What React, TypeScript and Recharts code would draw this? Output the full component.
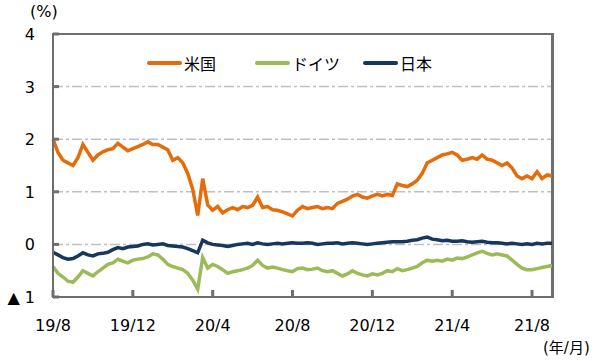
import { LineChart, Line, XAxis, YAxis, CartesianGrid, ReferenceLine } from "recharts";

// month labels on the x axis (one every 4 months, starting 2019/8)
const tickLabels = ["19/8", "19/12", "20/4", "20/8", "20/12", "21/4", "21/8"];
const tickMonths = [0, 4, 8, 12, 16, 20, 24];
const yTicks = [-1, 0, 1, 2, 3, 4];

// 10-year yields, sampled about weekly (4 points per month) from 2019/8
const us = [
  2.0, 1.75, 1.6, 1.55, 1.5, 1.65, 1.9, 1.75, 1.6, 1.7,
  1.76, 1.8, 1.82, 1.92, 1.85, 1.78, 1.82, 1.86, 1.9, 1.95,
  1.9, 1.9, 1.85, 1.8, 1.6, 1.65, 1.55, 1.35, 1.05, 0.55,
  1.25, 0.75, 0.65, 0.72, 0.6, 0.66, 0.7, 0.66, 0.72, 0.7,
  0.74, 0.9, 0.7, 0.72, 0.66, 0.65, 0.62, 0.58, 0.54, 0.65,
  0.72, 0.68, 0.7, 0.72, 0.68, 0.7, 0.68, 0.78, 0.82, 0.86,
  0.92, 0.95, 0.9, 0.88, 0.92, 0.95, 0.92, 0.95, 0.93, 1.15,
  1.12, 1.1, 1.15, 1.22, 1.35, 1.55, 1.6, 1.65, 1.7, 1.72,
  1.75, 1.7, 1.6, 1.62, 1.65, 1.62, 1.7, 1.62, 1.6, 1.55,
  1.5, 1.55, 1.45, 1.3, 1.25, 1.3, 1.25, 1.38, 1.25, 1.32,
  1.3,
];

const de = [
  -0.42, -0.55, -0.62, -0.7, -0.72, -0.62, -0.5, -0.55, -0.6, -0.52,
  -0.45, -0.38, -0.35, -0.28, -0.32, -0.35, -0.3, -0.28, -0.27, -0.24,
  -0.18, -0.2, -0.28, -0.38, -0.42, -0.45, -0.48, -0.55, -0.68, -0.85,
  -0.25, -0.45, -0.38, -0.42, -0.48, -0.55, -0.52, -0.5, -0.48, -0.45,
  -0.4, -0.3, -0.4, -0.45, -0.43, -0.45, -0.48, -0.5, -0.52, -0.46,
  -0.45, -0.48, -0.47, -0.45, -0.5, -0.52, -0.5, -0.55, -0.6, -0.56,
  -0.5, -0.55, -0.58, -0.6, -0.56, -0.58, -0.55, -0.5, -0.52, -0.46,
  -0.5, -0.48, -0.45, -0.42, -0.35, -0.3, -0.32, -0.3, -0.32, -0.28,
  -0.3, -0.26, -0.27, -0.24, -0.2, -0.16, -0.13, -0.17, -0.2, -0.18,
  -0.2, -0.22, -0.3, -0.38, -0.45, -0.48, -0.48, -0.46, -0.44, -0.42,
  -0.4,
];

const jp = [
  -0.15, -0.2, -0.25, -0.28, -0.27, -0.22, -0.16, -0.2, -0.22, -0.18,
  -0.17, -0.15, -0.1, -0.06, -0.08, -0.05, -0.04, -0.03, 0.0, 0.01,
  -0.01, 0.0, 0.01, -0.02, -0.03, -0.04, -0.05, -0.08, -0.12, -0.16,
  0.08, 0.03, 0.0, -0.01, -0.02, -0.04, -0.02, 0.0, 0.01, 0.02,
  0.0, 0.03, 0.01, 0.0, 0.01, 0.02, 0.01, 0.02, 0.03, 0.02,
  0.02, 0.03, 0.02, 0.0, 0.01, 0.02, 0.02, 0.03, 0.01, 0.02,
  0.03, 0.02, 0.01, 0.0, 0.01, 0.02, 0.03, 0.04, 0.05, 0.05,
  0.05, 0.06, 0.08, 0.09, 0.12, 0.14, 0.1, 0.09, 0.07, 0.08,
  0.06, 0.06, 0.07, 0.05, 0.04, 0.05, 0.06, 0.04, 0.03, 0.03,
  0.02, 0.01, 0.02, 0.01, 0.0, 0.01, 0.0, 0.02, 0.01, 0.02,
  0.02,
];

const series = [
  { key: "us", name: "米国", color: "#E46C0A" },
  { key: "de", name: "ドイツ", color: "#9BBB59" },
  { key: "jp", name: "日本", color: "#17375E" },
];

const data = us.map((v, i) => ({ t: i / 4, us: v, de: de[i], jp: jp[i] }));

const FONT = "'DejaVu Sans', 'Noto Sans CJK JP', sans-serif";
const AXIS = "#6E6E6E";

// default tickSize 6 + tickMargin 2 => tick props sit 8px away from the axis line
function XTick({ x, y, payload }: any) {
  const idx = tickMonths.indexOf(payload.value);
  return (
    <g>
      <line x1={x} x2={x} y1={y - 8} y2={y - 15} stroke={AXIS} strokeWidth={3} />
      <text x={x} y={y + 26} textAnchor="middle" fontSize={16} fill="#000" fontFamily={FONT}>
        {tickLabels[idx]}
      </text>
    </g>
  );
}

function YTick({ x, y, payload }: any) {
  const v = payload.value;
  return (
    <g>
      <line x1={x + 8} x2={x + 14} y1={y} y2={y} stroke={AXIS} strokeWidth={3} />
      <text x={x - 10} y={y + 6} textAnchor="end" fontSize={16} fill="#000" fontFamily={FONT}>
        {v < 0 ? `▲ ${-v}` : v}
      </text>
    </g>
  );
}

export default function App() {
  return (
    <div style={{ position: "absolute", left: 0, top: 0, width: 600, height: 361, background: "#fff", fontFamily: FONT }}>
      <div style={{ position: "absolute", left: 30, top: 2, fontSize: 16 }}>(%)</div>
      <div style={{ position: "absolute", left: 543, top: 336, fontSize: 15 }}>(年/月)</div>
      {/* plot frame */}
      <div
        style={{
          position: "absolute",
          left: 52,
          top: 33,
          width: 502,
          height: 265,
          boxSizing: "border-box",
          border: `2px solid ${AXIS}`,
          pointerEvents: "none",
          zIndex: 3,
        }}
      />
      <div style={{ position: "absolute", left: 147, top: 51, display: "flex", fontSize: 16, zIndex: 2 }}>
        {series.map((s) => (
          <div key={s.key} style={{ display: "flex", alignItems: "center", width: 108 }}>
            <span style={{ display: "inline-block", width: 35, height: 4, borderRadius: 2, background: s.color, marginRight: 2 }} />
            <span>{s.name}</span>
          </div>
        ))}
      </div>
      <LineChart width={600} height={361} data={data} margin={{ top: 34, right: 48, bottom: 34, left: 0 }}>
        <CartesianGrid vertical={false} stroke="#BFBFBF" strokeDasharray="10 3 3 3" strokeWidth={1.5} />
        <XAxis
          type="number"
          dataKey="t"
          domain={[0, 25]}
          ticks={tickMonths}
          tick={<XTick />}
          axisLine={{ stroke: AXIS, strokeWidth: 2 }}
          tickLine={{ stroke: "none" }}
          height={30}
        />
        <YAxis
          domain={[-1, 4]}
          ticks={yTicks}
          tick={<YTick />}
          axisLine={{ stroke: AXIS, strokeWidth: 2 }}
          tickLine={{ stroke: "none" }}
          width={53}
        />
        <ReferenceLine y={4} stroke={AXIS} strokeWidth={2} />
        <ReferenceLine x={25} stroke={AXIS} strokeWidth={2} />
        {series.map((s) => (
          <Line
            key={s.key}
            dataKey={s.key}
            name={s.name}
            stroke={s.color}
            strokeWidth={3.5}
            dot={false}
            type="linear"
            isAnimationActive={false}
          />
        ))}
      </LineChart>
    </div>
  );
}
